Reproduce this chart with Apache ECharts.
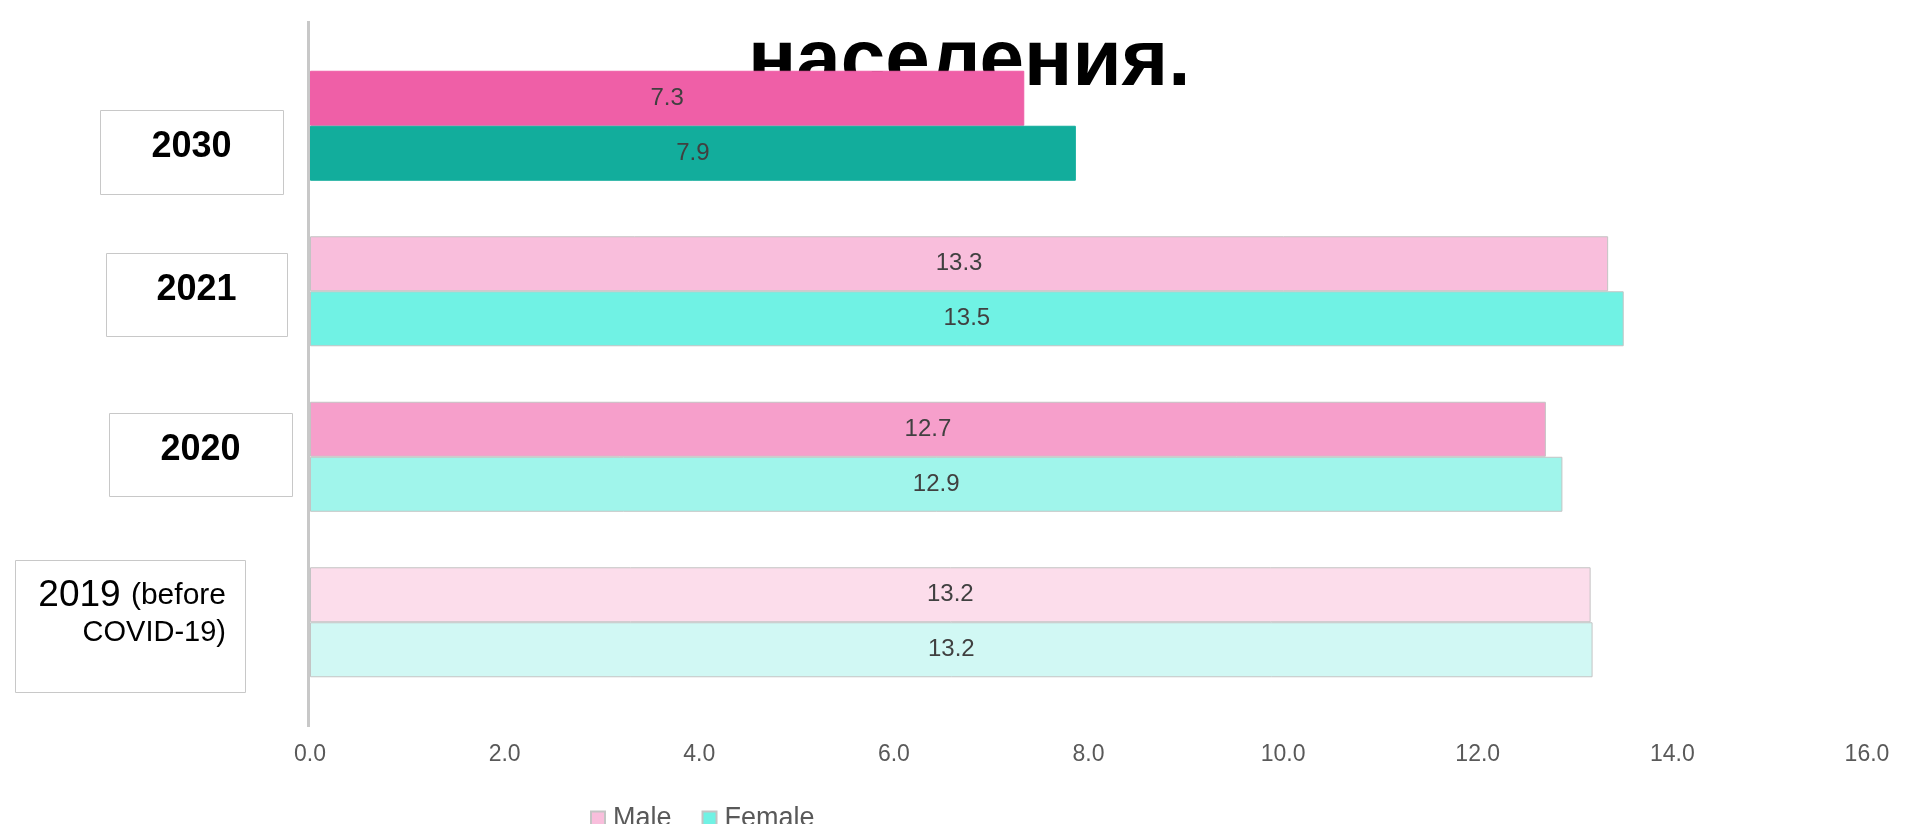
<!DOCTYPE html>
<html>
<head>
<meta charset="utf-8">
<style>
    html, body { margin: 0; padding: 0; background: #fff; }
    #chart { width: 1905px; height: 824px; }
</style>
<script src="https://cdn.jsdelivr.net/npm/echarts@6/dist/echarts.min.js"></script>
</head>
<body>
<div id="chart"></div>
<script>
    // data
    var categories = ['2030', '2021', '2020', '2019'];
    var maleValues = [7.34, 13.34, 12.70, 13.16];
    var femaleValues = [7.87, 13.50, 12.87, 13.18];
    var maleColors = ['#EF5FA7', '#F9BEDC', '#F69FCB', '#FCDDEB'];
    var femaleColors = ['#12AD9C', '#70F2E4', '#A0F5EB', '#D1F8F4'];
    var xTicks = [0, 16, 2]; // min, max, interval
    var titleText = 'населения.';
    var boxLabels = ['2030', '2021', '2020', '2019 (before\nCOVID-19)'];

    var font = '"Liberation Sans", Arial, sans-serif';

    function barData(values, colors) {
        return values.map(function (v, i) {
            return {
                value: v,
                itemStyle: {
                    color: colors[i],
                    borderColor: i === 0 ? colors[i] : '#C4C4C4',
                    borderWidth: 1
                }
            };
        });
    }

    // boxes round the year labels (slide text boxes, not on the band centres)
    var boxes = [
        { x: 100, y: 110, w: 183, h: 84, cy: 147 },
        { x: 106, y: 253, w: 181, h: 83, cy: 290 },
        { x: 109, y: 413, w: 183, h: 83, cy: 450 },
        { x: 15, y: 560, w: 230, h: 132 }
    ];
    var graphics = [];
    boxes.forEach(function (b, i) {
        graphics.push({
            type: 'rect', z: 1,
            shape: { x: b.x + 0.5, y: b.y + 0.5, width: b.w, height: b.h },
            style: { fill: '#fff', stroke: '#C8C8C8', lineWidth: 1 }
        });
        if (i < 3) {
            graphics.push({
                type: 'text', z: 2,
                x: b.x + b.w / 2, y: b.cy,
                style: {
                    text: boxLabels[i], fill: '#000', font: 'bold 36px ' + font,
                    align: 'center', verticalAlign: 'middle'
                }
            });
        }
    });
    var lines = boxLabels[3].split('\n');
    var yearPart = lines[0].split(' ');
    graphics.push({
        type: 'text', z: 2, x: 226, y: 596,
        style: {
            text: '{a|' + yearPart[0] + '}{s| }{b|' + yearPart[1] + '}',
            align: 'right', verticalAlign: 'middle',
            rich: {
                a: { fontSize: 37, fontFamily: font, fill: '#000', color: '#000' },
                s: { fontSize: 37, fontFamily: font },
                b: { fontSize: 30, fontFamily: font, fill: '#000', color: '#000' }
            }
        }
    });
    graphics.push({
        type: 'text', z: 2, x: 226, y: 633,
        style: {
            text: lines[1], fill: '#000', font: '29px ' + font,
            align: 'right', verticalAlign: 'middle'
        }
    });
    // heading of the slide, cut by the top edge and covered by the bars
    graphics.push({
        type: 'text', z: 0, x: 748, y: 103,
        style: {
            text: titleText, fill: '#000', font: 'bold 80px ' + font,
            align: 'left', verticalAlign: 'bottom'
        }
    });
    // vertical axis line, longer than the plot area
    graphics.push({
        type: 'rect', z: 1,
        shape: { x: 307, y: 21, width: 3, height: 706 },
        style: { fill: '#C8C8C8' }
    });

    var chart = echarts.init(document.getElementById('chart'));
    chart.setOption({
        animation: false,
        textStyle: { fontFamily: font },
        grid: { left: 310, right: 38, top: 43, bottom: 119 },
        legend: {
            data: ['Male', 'Female'],
            left: 590, top: 805, padding: 0,
            icon: 'rect', itemWidth: 14, itemHeight: 14, itemGap: 30,
            textStyle: { fontSize: 27, color: '#595959', fontFamily: font, padding: [0, 0, 0, 3] }
        },
        xAxis: {
            type: 'value',
            min: xTicks[0], max: xTicks[1], interval: xTicks[2],
            axisLine: { show: false },
            axisTick: { show: false },
            splitLine: { show: false },
            axisLabel: {
                margin: 38, fontSize: 23, color: '#595959',
                formatter: function (v) { return v.toFixed(1); }
            }
        },
        yAxis: {
            type: 'category',
            inverse: true,
            data: categories,
            axisLine: { show: false },
            axisTick: { show: false },
            axisLabel: { show: false }
        },
        graphic: graphics,
        series: [{
            name: 'Male',
            type: 'bar',
            barWidth: 55,
            barGap: '0%',
            itemStyle: { color: '#F9BEDC', borderColor: '#C4C4C4', borderWidth: 1 },
            label: {
                show: true, position: 'inside', fontSize: 24, color: '#404040',
                formatter: function (p) { return p.value.toFixed(1); }
            },
            data: barData(maleValues, maleColors)
        }, {
            name: 'Female',
            type: 'bar',
            barWidth: 55,
            barGap: '0%',
            itemStyle: { color: '#70F2E4', borderColor: '#C4C4C4', borderWidth: 1 },
            label: {
                show: true, position: 'inside', fontSize: 24, color: '#404040',
                formatter: function (p) { return p.value.toFixed(1); }
            },
            data: barData(femaleValues, femaleColors)
        }]
    });
</script>
</body>
</html>
